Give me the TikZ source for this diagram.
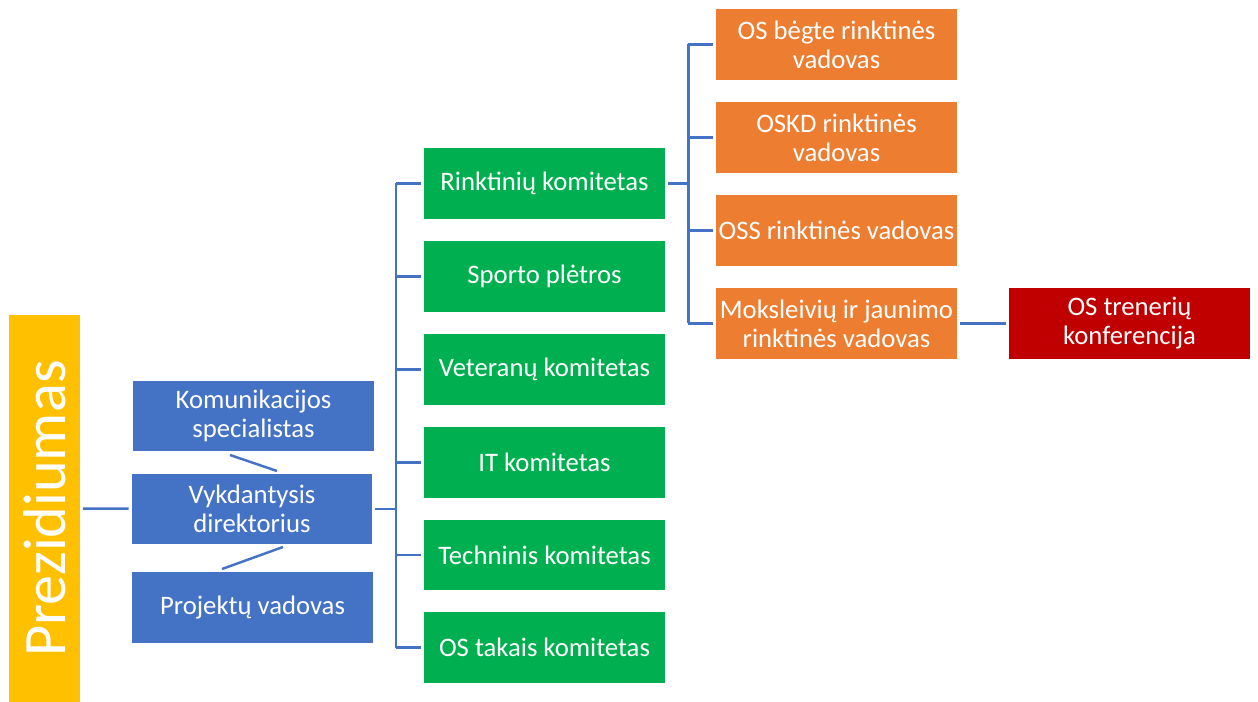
\documentclass[tikz,border=0pt]{standalone}
\usepackage{fontspec}
\setmainfont{Carlito}
\definecolor{melyna}{HTML}{4472C4}
\definecolor{zalia}{HTML}{00B050}
\definecolor{oranzine}{HTML}{ED7D31}
\definecolor{raudona}{HTML}{C00000}
\definecolor{geltona}{HTML}{FFC000}
\begin{document}
\begin{tikzpicture}[x=0.02cm, y=-0.02cm,
	blokas/.style={minimum width=4.82cm, minimum height=1.42cm, inner sep=0pt, text=white, align=center, font=\fontsize{15.2}{16.6}\selectfont},
	linija/.style={draw=melyna, line width=1.4pt}]
	\useasboundingbox (0,0) rectangle (1258,702);
	\node[fill=geltona, text=white, rotate=90, minimum width=7.74cm, minimum height=1.42cm, inner sep=0pt, font=\fontsize{34.3}{40}\selectfont] (prez) at (44.5,508.5) {Prezidiumas};
	\node[blokas, fill=melyna] (kom)  at (253.5,416) {Komunikacijos\\specialistas};
	\node[blokas, fill=melyna] (vyk)  at (252,509)   {Vykdantysis\\direktorius};
	\node[blokas, fill=melyna] (proj) at (252.5,607.5) {Projektų vadovas};
	\node[blokas, fill=zalia] (rink)  at (544.5,183.5) {Rinktinių komitetas};
	\node[blokas, fill=zalia] (sport) at (544.5,276.5) {Sporto plėtros};
	\node[blokas, fill=zalia] (vet)   at (544.5,369.5) {Veteranų komitetas};
	\node[blokas, fill=zalia] (it)    at (544.5,462.5) {IT komitetas};
	\node[blokas, fill=zalia] (tech)  at (544.5,555)   {Techninis komitetas};
	\node[blokas, fill=zalia] (takai) at (544.5,647.5) {OS takais komitetas};
	\node[blokas, fill=oranzine] (begte) at (836.5,44.5)  {OS bėgte rinktinės\\vadovas};
	\node[blokas, fill=oranzine] (oskd)  at (836.5,137.5) {OSKD rinktinės\\vadovas};
	\node[blokas, fill=oranzine] (oss)   at (836.5,230.5) {OSS rinktinės vadovas};
	\node[blokas, fill=oranzine] (mok)   at (836.5,323.5) {Moksleivių ir jaunimo\\rinktinės vadovas};
	\node[blokas, fill=raudona] (konf)   at (1129.5,323.5) {OS trenerių\\konferencija};
	% jungtys
	\draw[linija, shorten <=1.5pt, shorten >=1.5pt] (prez) -- (vyk);
	\draw[linija, shorten <=1.5pt] (vyk.east) -- ++(23,0) coordinate (kam);
	\draw[linija] (kam |- rink.west) -- (kam |- takai.west);
	\foreach \k in {rink,sport,vet,it,tech,takai}
		\draw[linija, shorten >=1.5pt] (kam |- \k.west) -- (\k.west);
	\draw[linija, shorten <=1.5pt] (rink.east) -- ++(23,0) coordinate (sak);
	\draw[linija] (sak |- begte.west) -- (sak |- mok.west);
	\foreach \k in {begte,oskd,oss,mok}
		\draw[linija, shorten >=1.5pt] (sak |- \k.west) -- (\k.west);
	\draw[linija, shorten <=1.5pt, shorten >=1.5pt] (mok) -- (konf);
	\coordinate (k1) at (230,455);
	\coordinate (k2) at (277,471);
	\coordinate (p1) at (283,547);
	\coordinate (p2) at (222,569);
	\draw[linija] (k1) -- (k2);
	\draw[linija] (p1) -- (p2);
\end{tikzpicture}
\end{document}
